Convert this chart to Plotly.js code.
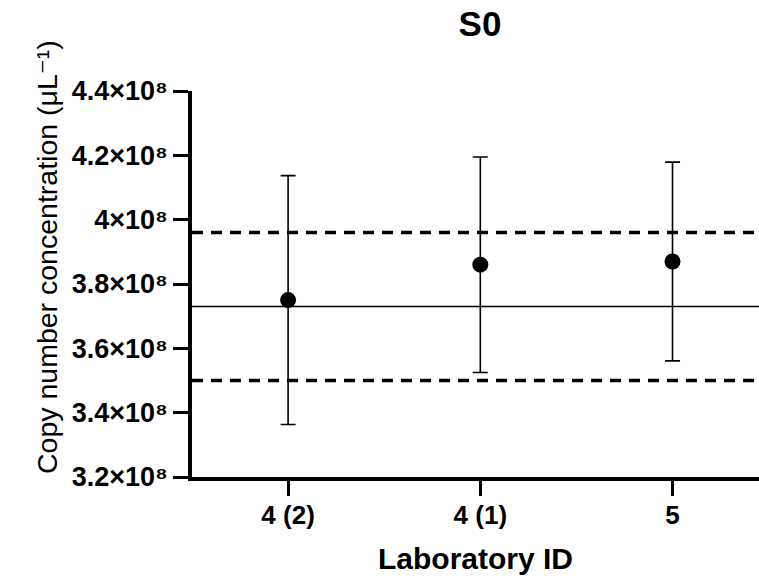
<!DOCTYPE html>
<html><head><meta charset="utf-8">
<script src="https://cdn.plot.ly/plotly-3.0.1.min.js"></script>
<style>html,body{margin:0;padding:0;background:#fff}#chart{width:759px;height:578px}</style>
</head><body><div id="chart"></div>
<script>
// Data
const labIds = ["4 (2)", "4 (1)", "5"];
const meanValues = [3.75e8, 3.86e8, 3.87e8];
const uncertainties = [0.387e8, 0.335e8, 0.309e8];
const referenceValue = 3.73e8;
const lowerLimit = 3.50e8;
const upperLimit = 3.96e8;
const yTickVals = [3.2e8, 3.4e8, 3.6e8, 3.8e8, 4.0e8, 4.2e8, 4.4e8];
const yTickText = ["3.2×10⁸", "3.4×10⁸", "3.6×10⁸", "3.8×10⁸", "4×10⁸", "4.2×10⁸", "4.4×10⁸"];
const chartTitle = "S0";
const xTitle = "Laboratory ID";
const yTitle = "Copy number concentration (μL⁻¹)";

const FONT = "Liberation Sans, Arial, Helvetica, DejaVu Sans, sans-serif";

const trace = {
  type: "scatter",
  mode: "markers",
  x: labIds,
  y: meanValues,
  marker: {size: 16, color: "#000"},
  error_y: {type: "data", array: uncertainties, visible: true, color: "#000", thickness: 1.6, width: 7.5},
  showlegend: false,
  hoverinfo: "x+y"
};

function hline(v, dashed) {
  return {
    type: "line", xref: "paper", x0: 0, x1: 1, yref: "y", y0: v, y1: v,
    line: {color: "#000", width: dashed ? 3.5 : 1.5, dash: dashed ? "11px,8px" : "solid"},
    layer: "below"
  };
}

const layout = {
  width: 759, height: 578,
  margin: {l: 192, r: 0, t: 91, b: 101},
  paper_bgcolor: "#fff", plot_bgcolor: "#fff",
  font: {family: FONT, color: "#000"},
  title: {
    text: chartTitle, font: {family: FONT, size: 35, weight: 700, color: "#000"},
    xref: "container", x: 480 / 759, xanchor: "center",
    yref: "container", y: 1 - 24 / 578, yanchor: "middle"
  },
  xaxis: {
    type: "category",
    range: [-0.5, 2.45],
    showline: true, linecolor: "#000", linewidth: 3.5,
    ticks: "outside", ticklen: 15, tickwidth: 3, tickcolor: "#000",
    tickfont: {family: FONT, size: 26, weight: 700, color: "#000"},
    ticklabelstandoff: -3,
    showgrid: false, zeroline: false,
    title: {text: xTitle, font: {family: FONT, size: 30, weight: 700, color: "#000"}, standoff: 20},
    fixedrange: true
  },
  yaxis: {
    range: [3.2e8, 4.4e8],
    tickvals: yTickVals, ticktext: yTickText,
    showline: true, linecolor: "#000", linewidth: 3.5,
    ticks: "outside", ticklen: 15, tickwidth: 3, tickcolor: "#000",
    tickfont: {family: FONT, size: 27, weight: 700, color: "#000"},
    showgrid: false, zeroline: false,
    fixedrange: true
  },
  annotations: [{
    text: yTitle, textangle: -90, showarrow: false,
    xref: "paper", x: -(192 - 47) / 567, xanchor: "center",
    yref: "paper", y: (578 - 101 - 257) / 386, yanchor: "middle",
    font: {family: FONT, size: 28.5, color: "#000"}
  }],
  shapes: [hline(upperLimit, true), hline(referenceValue, false), hline(lowerLimit, true)]
};

Plotly.newPlot("chart", [trace], layout, {displayModeBar: false});
</script>
</body></html>
